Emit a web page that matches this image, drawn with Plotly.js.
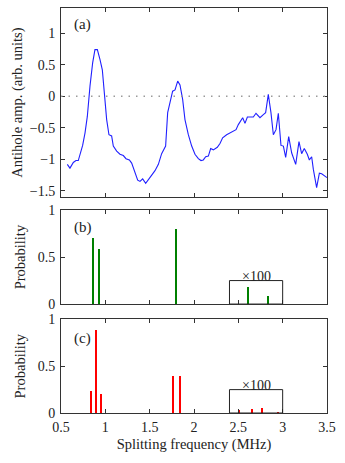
<!DOCTYPE html>
<html>
<head>
<meta charset="utf-8">
<script src="https://cdn.plot.ly/plotly-3.0.1.min.js"></script>
<style>
  body { margin: 0; background: #fff; }
  #chart { width: 345px; height: 463px; }
</style>
</head>
<body>
<div id="chart"></div>
<script>
// (a) antihole spectrum
const freq = [0.571, 0.601, 0.639, 0.669, 0.695, 0.714, 0.744, 0.771, 0.797, 0.827, 0.857, 0.883, 0.910, 0.940, 0.966, 0.989,
  1.015, 1.041, 1.071, 1.090, 1.128, 1.165, 1.203, 1.233, 1.271, 1.297, 1.335, 1.365, 1.391, 1.421, 1.455, 1.485,
  1.523, 1.560, 1.598, 1.635, 1.680, 1.703, 1.729, 1.759, 1.786, 1.816, 1.842, 1.872, 1.898, 1.936, 1.974, 2.011,
  2.049, 2.079, 2.105, 2.132, 2.162, 2.188, 2.218, 2.263, 2.293, 2.323, 2.368, 2.414, 2.444, 2.474, 2.500, 2.549,
  2.575, 2.602, 2.632, 2.669, 2.699, 2.744, 2.782, 2.808, 2.838, 2.868, 2.895, 2.925, 2.951, 2.981, 3.008, 3.034,
  3.068, 3.102, 3.147, 3.184, 3.214, 3.244, 3.278, 3.301, 3.327, 3.346, 3.383, 3.414, 3.440, 3.478, 3.500];
const amp = [-1.08, -1.14, -1.05, -1.02, -1.02, -0.92, -0.78, -0.58, -0.32, 0.16, 0.53, 0.74, 0.74, 0.58, 0.42, 0.05,
  -0.37, -0.61, -0.63, -0.79, -0.87, -0.92, -0.94, -0.99, -1.01, -1.06, -1.21, -1.33, -1.35, -1.31, -1.38, -1.33,
  -1.25, -1.18, -1.08, -0.91, -0.79, -0.26, -0.08, 0.08, 0.10, 0.24, 0.18, -0.05, -0.37, -0.61, -0.79, -0.92,
  -0.99, -1.02, -1.01, -0.96, -0.95, -0.83, -0.85, -0.81, -0.75, -0.66, -0.61, -0.58, -0.55, -0.53, -0.45, -0.34,
  -0.43, -0.33, -0.33, -0.33, -0.27, -0.34, -0.29, -0.26, 0.03, -0.26, -0.61, -0.53, -0.27, -0.78, -0.79, -0.97,
  -0.64, -0.90, -1.08, -0.72, -0.91, -0.83, -0.92, -1.01, -0.96, -1.16, -1.45, -1.22, -1.23, -1.26, -1.29];

// (b) probabilities
const bFreq = [0.861, 0.932, 1.797];
const bProb = [0.70, 0.59, 0.80];
const bInsetFreq = [2.612, 2.837];
const bInsetProb = [0.0018, 0.0009];

// (c) probabilities
const cFreq = [0.842, 0.898, 0.948, 1.665, 1.763, 1.838, 1.946];
const cProb = [0.234, 0.883, 0.198, 0.004, 0.40, 0.40, 0.004];
const cInsetFreq = [2.503, 2.657, 2.766, 2.943];
const cInsetProb = [0.0003, 0.0004, 0.0005, 0.0001];

const insetScale = 100;
const insetRange = [2.4, 3.0];
const insetTop = 0.25;

const xTicks = [0.5, 1, 1.5, 2, 2.5, 3, 3.5];
const aTicks = [-1.5, -1, -0.5, 0, 0.5, 1];
const pTicks = [0, 0.5, 1];

const green = '#008000';
const red = '#ff0000';
const font = { family: 'Liberation Serif', size: 14, color: '#222' };
const titleFont = { ...font, size: 14.5 };

const scaled = arr => arr.map(v => v * insetScale);

const traces = [
  { x: freq, y: amp, type: 'scatter', mode: 'lines', line: { color: '#2020ff', width: 1.1 }, xaxis: 'x', yaxis: 'y' },
  { x: bFreq, y: bProb, type: 'bar', width: 0.022, marker: { color: green }, xaxis: 'x2', yaxis: 'y2' },
  { x: bInsetFreq, y: scaled(bInsetProb), type: 'bar', width: 0.022, marker: { color: green }, xaxis: 'x2', yaxis: 'y2' },
  { x: cFreq, y: cProb, type: 'bar', width: 0.022, marker: { color: red }, xaxis: 'x3', yaxis: 'y3' },
  { x: cInsetFreq, y: scaled(cInsetProb), type: 'bar', width: 0.022, marker: { color: red }, xaxis: 'x3', yaxis: 'y3' }
];

function xAxis(anchor, labels) {
  return {
    anchor: anchor, domain: [0, 1], range: [0.5, 3.5], tickvals: xTicks,
    showticklabels: labels, ticks: 'inside', ticklen: 4, tickcolor: '#333',
    showline: true, linecolor: '#333', linewidth: 1, mirror: 'ticks',
    showgrid: false, zeroline: false, tickfont: font
  };
}
function yAxis(anchor, domain, range, ticks, title, standoff) {
  return {
    anchor: anchor, domain: domain, range: range, tickvals: ticks,
    ticks: 'inside', ticklen: 4, tickcolor: '#333', ticklabelstandoff: 2,
    showline: true, linecolor: '#333', linewidth: 1, mirror: 'ticks',
    showgrid: false, zeroline: false, tickfont: font,
    title: { text: title, font: titleFont, standoff: standoff }
  };
}

const xs = xAxis('y3', true);
xs.ticklabelstandoff = 1;
xs.title = { text: 'Splitting frequency (MHz)', font: titleFont, standoff: 5 };

const layout = {
  width: 345, height: 463,
  margin: { l: 61, r: 18, t: 8, b: 50 },
  paper_bgcolor: '#fff', plot_bgcolor: '#fff',
  showlegend: false, bargap: 0, barmode: 'overlay',
  font: font,
  xaxis: xAxis('y', false),
  yaxis: yAxis('x', [0.533, 1], [-1.6, 1.4], aTicks, 'Antihole amp. (arb. units)', 3),
  xaxis2: xAxis('y2', false),
  yaxis2: yAxis('x2', [0.269, 0.501], [0, 1], pTicks, 'Probability', 8),
  xaxis3: xs,
  yaxis3: yAxis('x3', [0, 0.231], [0, 1], pTicks, 'Probability', 8),
  shapes: [
    { type: 'line', xref: 'x', yref: 'y', x0: 0.5, x1: 3.5, y0: 0, y1: 0, line: { color: '#9a9a9a', width: 1.4, dash: '1.5px,6px' } },
    { type: 'rect', xref: 'x2', yref: 'y2', x0: insetRange[0], x1: insetRange[1], y0: 0, y1: insetTop, line: { color: '#222', width: 1 } },
    { type: 'rect', xref: 'x3', yref: 'y3', x0: insetRange[0], x1: insetRange[1], y0: 0, y1: insetTop, line: { color: '#222', width: 1 } }
  ],
  annotations: [
    { text: '(a)', xref: 'x domain', yref: 'y domain', x: 0.04, y: 0.915, xanchor: 'left', yanchor: 'middle', showarrow: false, font: { ...font, size: 15 } },
    { text: '(b)', xref: 'x2 domain', yref: 'y2 domain', x: 0.04, y: 0.81, xanchor: 'left', yanchor: 'middle', showarrow: false, font: { ...font, size: 15 } },
    { text: '(c)', xref: 'x3 domain', yref: 'y3 domain', x: 0.04, y: 0.80, xanchor: 'left', yanchor: 'middle', showarrow: false, font: { ...font, size: 15 } },
    { text: '×' + insetScale, xref: 'x2', yref: 'y2', x: 2.7, y: insetTop, xanchor: 'center', yanchor: 'bottom', yshift: -5, showarrow: false, font: font },
    { text: '×' + insetScale, xref: 'x3', yref: 'y3', x: 2.7, y: insetTop, xanchor: 'center', yanchor: 'bottom', yshift: -5, showarrow: false, font: font }
  ]
};

Plotly.newPlot('chart', traces, layout, { displayModeBar: false, staticPlot: true });
</script>
</body>
</html>
